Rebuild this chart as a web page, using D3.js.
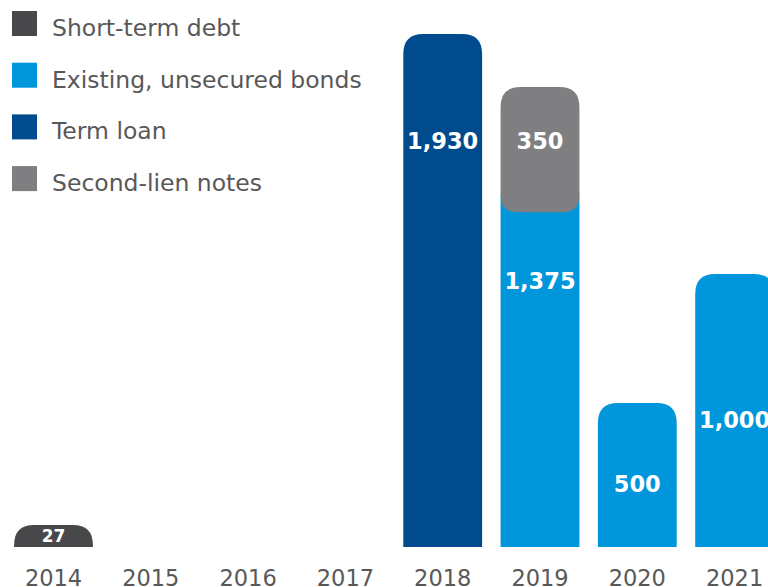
<!DOCTYPE html>
<html>
<head>
<meta charset="utf-8">
<script src="https://cdn.jsdelivr.net/npm/d3@7"></script>
<style>
  html, body { margin: 0; padding: 0; background: #ffffff; }
  svg { display: block; }
</style>
</head>
<body>
<svg id="chart" width="768" height="587"></svg>
<script>
// ---- data ----
const years = ["2014", "2015", "2016", "2017", "2018", "2019", "2020", "2021"];
const seriesNames = ["Short-term debt", "Existing, unsecured bonds", "Term loan", "Second-lien notes"];
const shortTermDebt = [27, 0, 0, 0, 0, 0, 0, 0];
const unsecuredBonds = [0, 0, 0, 0, 0, 1375, 500, 1000];
const termLoan = [0, 0, 0, 0, 1930, 0, 0, 0];
const secondLienNotes = [0, 0, 0, 0, 0, 350, 0, 0];
const seriesColors = ["#48484b", "#0096dc", "#004b8d", "#7f7f82"];

// ---- layout ----
const W = 768, H = 587;
const baseY = 547;
const svg = d3.select("#chart");
const fontFamily = "'DejaVu Sans', Verdana, sans-serif";

const keys = ["s0", "s1", "s2", "s3"];
const table = years.map((yr, i) => ({
  year: yr,
  s0: shortTermDebt[i], s1: unsecuredBonds[i], s2: termLoan[i], s3: secondLienNotes[i]
}));
const stacked = d3.stack().keys(keys)(table);

const x = d3.scaleBand().domain(years).range([4.85, 4.85 + 8 * 97.3])
  .paddingInner(0.19).paddingOuter(0.095);
const y = d3.scaleLinear().domain([0, 2000]).range([532, 16]);

// path with rounded top (and optionally rounded bottom)
function barPath(x0, w, top, bottom, rTop, rBot) {
  const p = d3.path();
  rTop = Math.min(rTop, (bottom - top));
  p.moveTo(x0, bottom - rBot);
  p.lineTo(x0, top + rTop);
  p.quadraticCurveTo(x0, top, x0 + rTop, top);
  p.lineTo(x0 + w - rTop, top);
  p.quadraticCurveTo(x0 + w, top, x0 + w, top + rTop);
  p.lineTo(x0 + w, bottom - rBot);
  if (rBot > 0) {
    p.quadraticCurveTo(x0 + w, bottom, x0 + w - rBot, bottom);
    p.lineTo(x0 + rBot, bottom);
    p.quadraticCurveTo(x0, bottom, x0, bottom - rBot);
  } else {
    p.lineTo(x0, bottom);
  }
  p.closePath();
  return p.toString();
}

// label placement tweaks (pixels from segment top)
const labelFromTop = { "2014": 11, "2018": 107, "2019s1": 104, "2019s3": 54, "2020": 81, "2021": 146 };

const segs = [];
stacked.forEach((layer, li) => {
  layer.forEach((d, i) => {
    const v = d[1] - d[0];
    if (v <= 0) return;
    segs.push({ key: layer.key, li, year: years[i], y0: d[0], y1: d[1], v });
  });
});
// draw lower segments first
segs.sort((a, b) => a.y0 - b.y0);

const g = svg.append("g");
segs.forEach(s => {
  const x0 = x(s.year), w = x.bandwidth();
  const top = y(s.y1);
  const onTopOfOther = s.y0 > 0;
  const bottom = onTopOfOther ? y(s.y0) + 35 : baseY;
  const rTop = 20;
  const rBot = onTopOfOther ? 17 : 0;
  g.append("path")
    .attr("d", barPath(x0, w, top, bottom, rTop, rBot))
    .attr("fill", seriesColors[s.li]);
});

// value labels
segs.forEach(s => {
  const top = y(s.y1);
  const k = labelFromTop[s.year + s.key] !== undefined ? labelFromTop[s.year + s.key] : labelFromTop[s.year];
  const small = s.v < 100;
  svg.append("text")
    .attr("x", x(s.year) + x.bandwidth() / 2)
    .attr("y", top + k)
    .attr("text-anchor", "middle")
    .attr("dominant-baseline", "central")
    .attr("font-family", fontFamily)
    .attr("font-weight", "bold")
    .attr("font-size", small ? 17 : 22.5)
    .attr("fill", "#ffffff")
    .text(d3.format(",")(s.v));
});

// x axis labels
const xAxis = d3.axisBottom(x).tickSize(0).tickPadding(0);
const ax = svg.append("g").attr("transform", `translate(0, ${baseY})`).call(xAxis);
ax.select(".domain").remove();
ax.selectAll("text")
  .attr("y", 39)
  .attr("dy", null)
  .attr("font-family", fontFamily)
  .attr("font-size", 22.5)
  .attr("fill", "#585858");

// legend
const legendRows = [0, 1, 2, 3];
const legend = svg.append("g");
legendRows.forEach(i => {
  const cy = 28 + i * 51.7;
  legend.append("rect")
    .attr("x", 12).attr("y", cy - 17).attr("width", 25).attr("height", 25)
    .attr("fill", seriesColors[i]);
  legend.append("text")
    .attr("x", 52).attr("y", cy)
    .attr("dominant-baseline", "central")
    .attr("font-family", fontFamily)
    .attr("font-size", 23.5)
    .attr("fill", "#585858")
    .text(seriesNames[i]);
});
</script>
</body>
</html>
